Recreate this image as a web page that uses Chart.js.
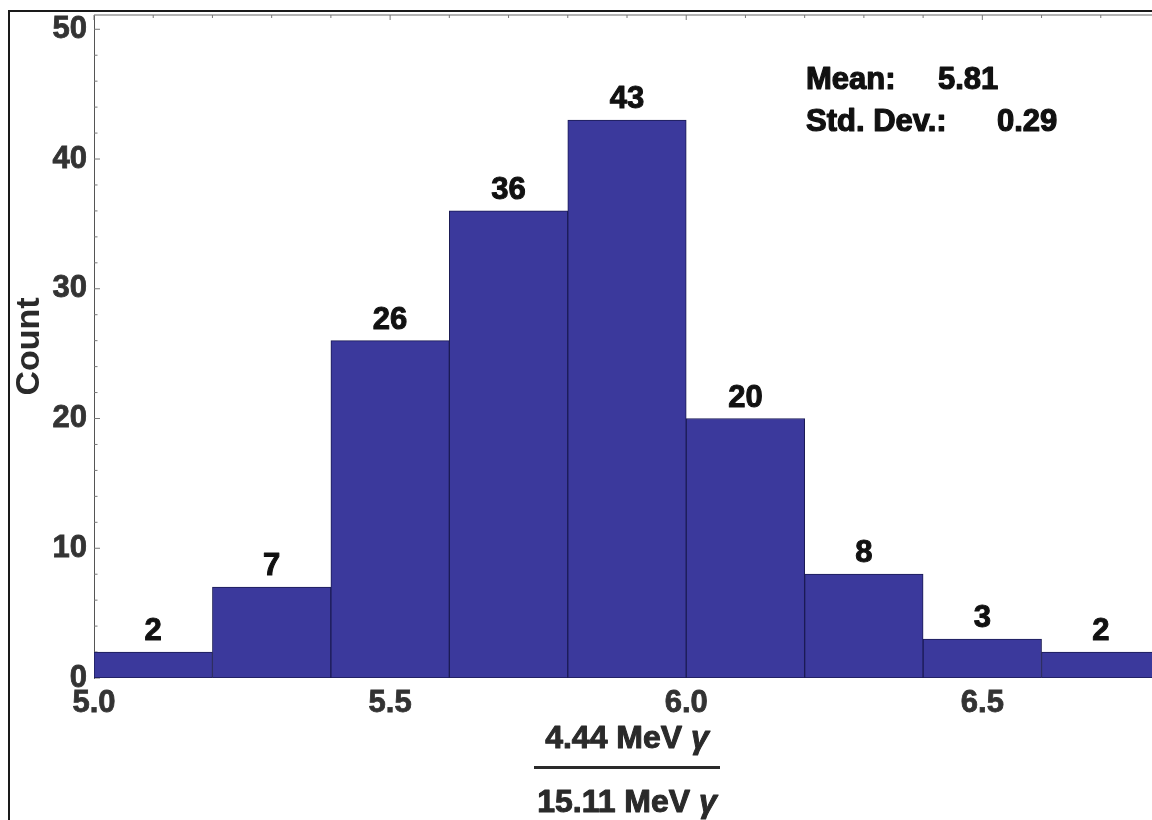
<!DOCTYPE html>
<html>
<head>
<meta charset="utf-8">
<script src="https://cdn.jsdelivr.net/npm/chart.js@4.4.1/dist/chart.umd.min.js"></script>
<style>
  html, body { margin: 0; padding: 0; background: #fff; overflow: hidden; width: 1152px; height: 820px; }
  #frame { position: absolute; left: 8px; top: 10px; width: 1400px; height: 1000px; border: 2px solid #1a1a1a; box-sizing: border-box; }
  #wrap { position: absolute; left: 0; top: 0; width: 1160px; height: 820px; }
</style>
</head>
<body>
<div id="frame"></div>
<div id="wrap"><canvas id="hist" width="1160" height="820"></canvas></div>
<script>
// Histogram bins (centres of 0.2-wide bins) and their counts
const binCenters = [5.1, 5.3, 5.5, 5.7, 5.9, 6.1, 6.3, 6.5, 6.7];
const counts     = [2, 7, 26, 36, 43, 20, 8, 3, 2];

// Axis ticks
const xTickValues = [5.0, 5.5, 6.0, 6.5];
const yTickValues = [0, 10, 20, 30, 40, 50];
const xMinorStep = 0.1;
const yMinorStep = 2;

// Summary statistics shown in the corner
const statLabels = ['Mean:', 'Std. Dev.:'];
const statValues = [5.81, 0.29];

// Axis titles
const yTitle = 'Count';
const xTitleTop = ['4.44 MeV ', 'γ'];
const xTitleBottom = ['15.11 MeV ', 'γ'];

const FONT = '"Liberation Sans", Arial, Helvetica, sans-serif';
const BAR = '#3b399c';

// heavier text: fill plus a thin outline of the same colour
function boldText(ctx, text, x, y, color, stroke) {
  ctx.fillStyle = color;
  ctx.strokeStyle = color;
  ctx.lineWidth = stroke;
  ctx.lineJoin = 'round';
  ctx.strokeText(text, x, y);
  ctx.fillText(text, x, y);
}

// Inward tick marks on the left axis and a light frame line along the top
const frameTicks = {
  id: 'frameTicks',
  beforeDatasetsDraw(chart) {
    const {ctx, chartArea: a, scales: {x, y}} = chart;
    ctx.save();
    ctx.strokeStyle = '#9a9a9a';
    ctx.lineWidth = 1.5;
    ctx.beginPath();
    ctx.moveTo(a.left, a.top);
    ctx.lineTo(a.right + 5, a.top);
    ctx.stroke();
    ctx.lineWidth = 1;
    ctx.strokeStyle = '#777';
    for (let v = x.min; v <= x.max + 1e-9; v += xMinorStep) {
      const px = x.getPixelForValue(v);
      const major = Math.abs(v * 2 - Math.round(v * 2)) < 1e-6;
      ctx.beginPath();
      ctx.moveTo(px, a.top);
      ctx.lineTo(px, a.top + (major ? 5 : 3));
      ctx.stroke();
    }
    for (let v = 0; v <= y.max + 1e-9; v += yMinorStep) {
      const py = y.getPixelForValue(v);
      const major = yTickValues.includes(v);
      ctx.beginPath();
      ctx.moveTo(a.left, py);
      ctx.lineTo(a.left + (major ? 6 : 3.5), py);
      ctx.stroke();
    }
    ctx.restore();
  }
};

// Count labels above each bar, the statistics box and the fraction-style x title
const annotations = {
  id: 'annotations',
  afterDatasetsDraw(chart) {
    const {ctx, chartArea: a} = chart;
    const meta = chart.getDatasetMeta(0);
    ctx.save();
    ctx.font = `bold 31px ${FONT}`;
    ctx.textAlign = 'center';
    ctx.textBaseline = 'alphabetic';
    meta.data.forEach((bar, i) => {
      boldText(ctx, String(counts[i]), bar.x, bar.y - 12, '#111', 1);
    });

    // statistics
    ctx.font = `bold 31px ${FONT}`;
    ctx.textAlign = 'left';
    boldText(ctx, statLabels[0], 806, 89, '#111', 1.2);
    boldText(ctx, statValues[0].toFixed(2), 938, 89, '#111', 1.2);
    boldText(ctx, statLabels[1], 806, 131, '#111', 1.2);
    boldText(ctx, statValues[1].toFixed(2), 997, 131, '#111', 1.2);

    // x-axis title drawn as a fraction
    const cx = (a.left + a.right) / 2;
    const size = 32;
    const drawParts = (parts, baseline) => {
      ctx.font = `bold ${size}px ${FONT}`;
      const w0 = ctx.measureText(parts[0]).width;
      ctx.font = `italic bold ${size}px ${FONT}`;
      const w1 = ctx.measureText(parts[1]).width;
      const x0 = cx - (w0 + w1) / 2;
      ctx.font = `bold ${size}px ${FONT}`;
      boldText(ctx, parts[0], x0, baseline, '#2a2a2a', 1);
      ctx.font = `italic bold ${size}px ${FONT}`;
      boldText(ctx, parts[1], x0 + w0, baseline, '#2a2a2a', 1);
    };
    drawParts(xTitleTop, 748);
    ctx.fillStyle = '#2a2a2a';
    ctx.fillRect(cx - 93, 766, 186, 3);
    drawParts(xTitleBottom, 812);
    ctx.restore();
  }
};

new Chart(document.getElementById('hist'), {
  type: 'bar',
  data: {
    datasets: [{
      data: binCenters.map((c, i) => ({x: c, y: counts[i]})),
      backgroundColor: BAR,
      borderColor: '#1b1b55',
      borderWidth: 1,
      borderSkipped: false,
      barPercentage: 1.0,
      categoryPercentage: 1.0
    }]
  },
  options: {
    responsive: false,
    devicePixelRatio: 1,
    animation: false,
    layout: { padding: { left: 0, right: 0, top: 15, bottom: 0 } },
    plugins: { legend: { display: false }, tooltip: { enabled: false } },
    scales: {
      x: {
        type: 'linear',
        min: 5.0,
        max: 6.8,
        offset: false,
        grid: { display: false, drawTicks: false },
        border: { display: false },
        afterBuildTicks: s => { s.ticks = xTickValues.map(v => ({value: v})); },
        afterFit: s => { s.height = 142; s.paddingLeft = 0; s.paddingRight = 0; },
        ticks: {
          padding: 7,
          maxRotation: 0,
          autoSkip: false,
          color: '#333',
          textStrokeColor: '#333',
          textStrokeWidth: 0.8,
          font: { family: FONT, size: 31, weight: 'bold' },
          callback: v => Number(v).toFixed(1)
        }
      },
      y: {
        min: 0,
        max: 51.1,
        grid: { display: false, drawTicks: false },
        border: { display: true, color: '#555', width: 1 },
        afterBuildTicks: s => { s.ticks = yTickValues.map(v => ({value: v})); },
        afterFit: s => { s.width = 94; s.paddingTop = 0; s.paddingBottom = 0; },
        title: {
          display: true,
          text: yTitle,
          color: '#2a2a2a',
          font: { family: FONT, size: 34, weight: 'bold' },
          padding: { top: 9, bottom: 0 }
        },
        ticks: {
          padding: 7,
          color: '#333',
          textStrokeColor: '#333',
          textStrokeWidth: 0.8,
          font: { family: FONT, size: 31, weight: 'bold' }
        }
      }
    }
  },
  plugins: [frameTicks, annotations]
});
</script>
</body>
</html>
